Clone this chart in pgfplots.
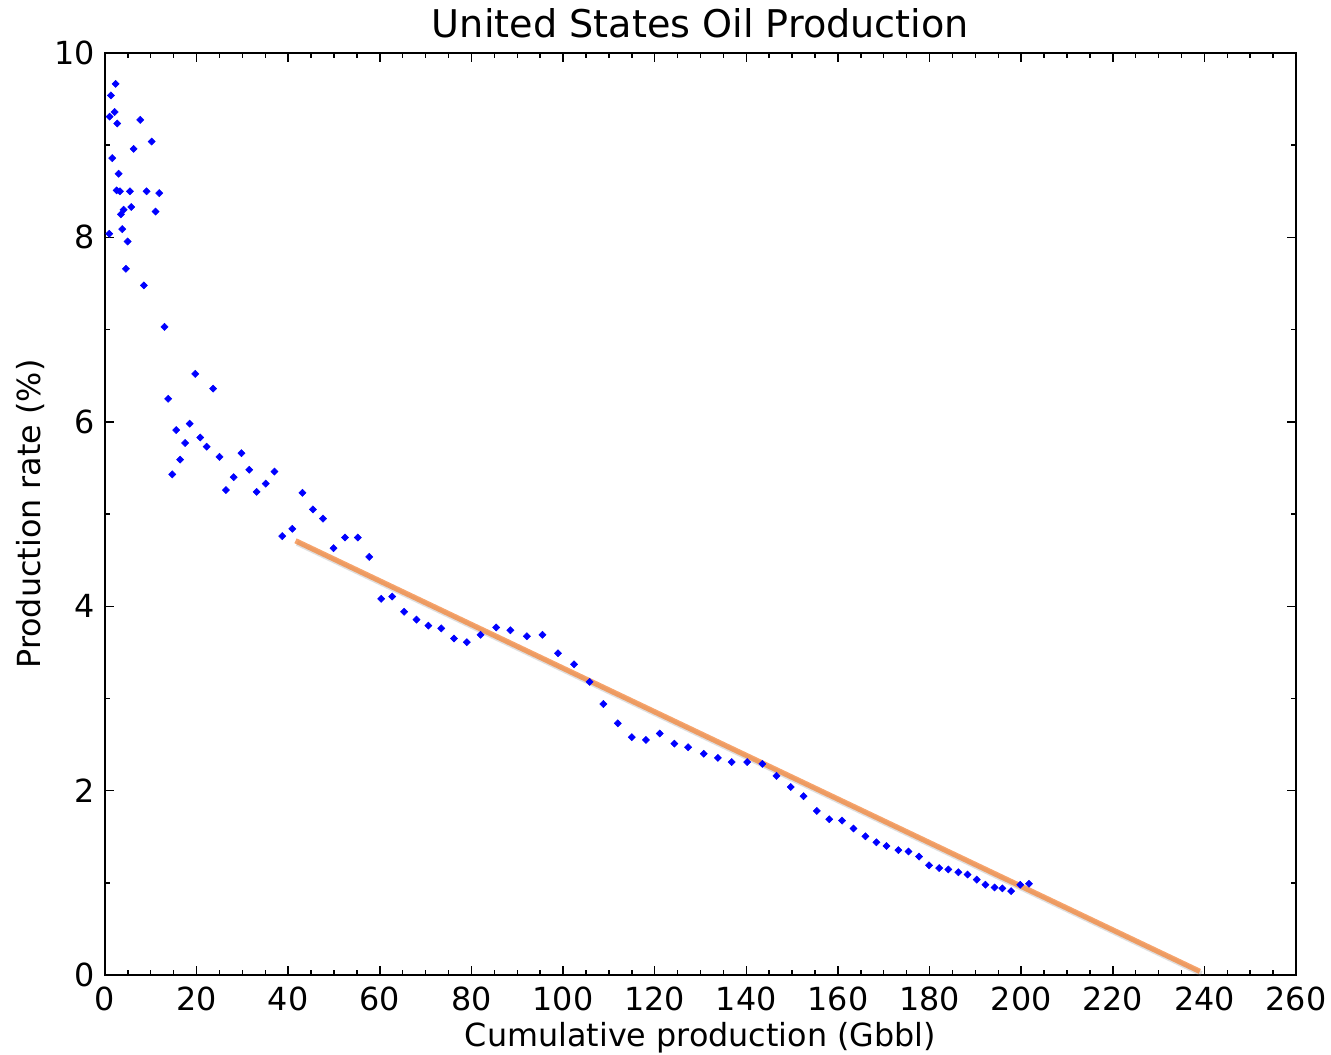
\documentclass[border=0pt]{standalone}
\usepackage{fontspec}
\setmainfont{DejaVu Sans}
\usepackage{pgfplots}
\pgfplotsset{compat=1.18}
\usepackage{pgfplotstable}

\definecolor{fitorange}{RGB}{243,132,56}

% cumulative production (Gbbl) vs. annual production rate (%)
\pgfplotstableread{
x y
0.94 8.04
1.02 9.31
1.31 9.54
1.6 8.86
2.1 9.36
2.33 9.665
2.55 8.51
2.69 9.235
2.98 8.69
3.27 8.50
3.49 8.25
3.78 8.09
4.08 8.30
4.58 7.66
4.95 7.955
5.45 8.50
5.74 8.33
6.26 8.96
7.7 9.275
8.5 7.48
9.09 8.50
10.2 9.04
11.05 8.28
11.85 8.48
13.0 7.03
13.8 6.25
14.7 5.43
15.55 5.91
16.4 5.59
17.5 5.77
18.5 5.98
19.7 6.52
20.8 5.83
22.2 5.73
23.6 6.36
25.0 5.62
26.4 5.26
28.1 5.40
29.8 5.66
31.5 5.48
33.1 5.24
35.1 5.33
37.0 5.46
38.7 4.76
40.9 4.84
43.1 5.23
45.4 5.05
47.6 4.95
49.9 4.63
52.4 4.745
55.2 4.745
57.7 4.535
60.3 4.08
62.7 4.105
65.3 3.94
68.0 3.855
70.6 3.79
73.4 3.76
76.2 3.65
79.0 3.61
82.0 3.69
85.4 3.77
88.5 3.74
92.1 3.675
95.5 3.69
98.9 3.49
102.4 3.37
105.8 3.18
108.8 2.94
111.95 2.73
115.0 2.58
118.1 2.55
121.1 2.62
124.3 2.51
127.3 2.47
130.7 2.40
133.8 2.355
136.8 2.31
140.2 2.31
143.5 2.29
146.6 2.16
149.7 2.04
152.5 1.94
155.4 1.78
158.1 1.69
160.9 1.675
163.4 1.59
166.0 1.505
168.4 1.44
170.6 1.40
173.2 1.355
175.4 1.34
177.7 1.285
179.9 1.19
182.1 1.16
184.1 1.145
186.3 1.115
188.3 1.09
190.3 1.035
192.2 0.98
194.2 0.95
195.9 0.94
197.8 0.91
199.8 0.98
201.7 0.99
}\production

% linear fit over the later years
\pgfplotstableread{
x y
41.6 4.71
239.0 0.04
}\fitline

\begin{document}
\begin{tikzpicture}
\path[use as bounding box] (-39.6pt,-29.8pt) rectangle (462.6pt,367.9pt);
\begin{axis}[
  at={(0,0)}, anchor=south west,
  scale only axis,
  width=449.4pt, height=347.9pt,
  xmin=0, xmax=260, ymin=0, ymax=10,
  xtick distance=20, ytick distance=2,
  minor x tick num=3, minor y tick num=1,
  tick align=inside, tick pos=both,
  major tick length=3.4pt, minor tick length=1.8pt,
  every tick/.style={black, line width=0.55pt},
  axis line style={line width=1pt},
  /pgf/number format/assume math mode=true,
  tick label style={font=\fontsize{12}{14}\selectfont},
  xticklabel style={anchor=base, inner sep=0pt, yshift=-13.2pt},
  yticklabel style={anchor=east, inner sep=0pt, xshift=-3.6pt},
  every axis title shift=0pt,
  title={United States Oil Production},
  title style={font=\fontsize{14.4}{17}\selectfont, at={(axis description cs:0.5,1.0172)}, anchor=base, inner sep=0pt},
  xlabel={Cumulative production (Gbbl)},
  ylabel={Production rate (\%)},
  label style={font=\fontsize{12}{14}\selectfont, inner sep=0pt},
  xlabel style={at={(axis description cs:0.5,-0.077)}, anchor=base},
  ylabel style={at={(axis description cs:-0.0545,0.5)}, anchor=base},
  clip=false,
]
\addplot[only marks, mark=square*, mark size=0.95pt,
  mark options={draw=blue, fill=blue, line width=0.2pt, rotate=45}] table {\production};
\addplot[no marks, gray, opacity=0.25, line width=2pt,
  transform canvas={xshift=0.6pt, yshift=-0.9pt}] table {\fitline};
\addplot[no marks, fitorange, opacity=0.74, line width=2pt] table {\fitline};
\end{axis}
\end{tikzpicture}
\end{document}
